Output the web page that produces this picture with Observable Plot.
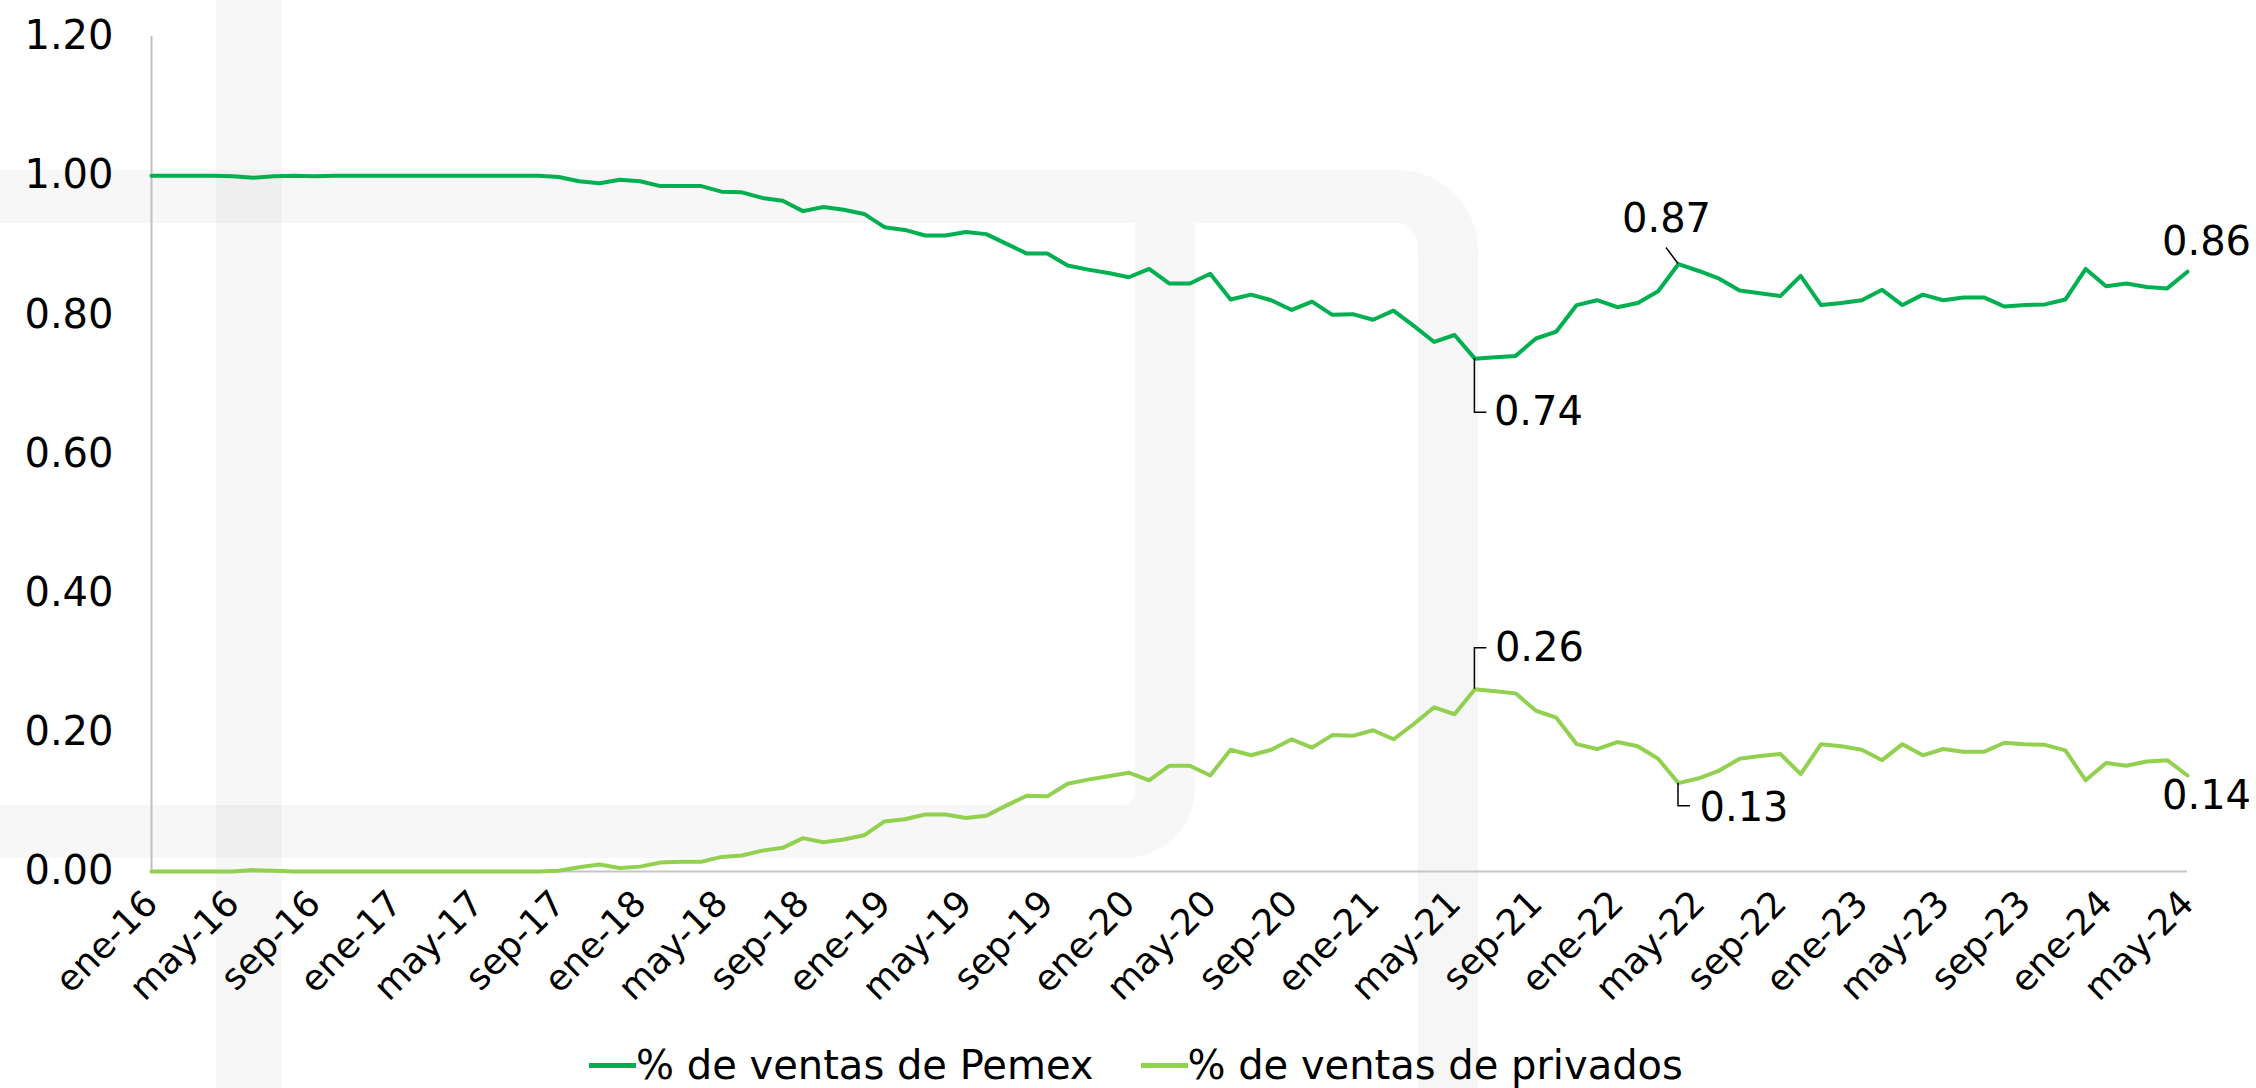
<!DOCTYPE html>
<html>
<head>
<meta charset="utf-8">
<script src="https://cdn.jsdelivr.net/npm/d3@7"></script>
<script src="https://cdn.jsdelivr.net/npm/@observablehq/plot@0.6"></script>
<style>
  html, body { margin: 0; padding: 0; background: #fff; }
  #wrap { position: relative; width: 2256px; height: 1088px; overflow: hidden; background: #fff; font-family: "DejaVu Sans", sans-serif; }
  .wm { position: absolute; box-sizing: border-box; border-color: rgba(0,0,0,0.031); border-style: solid; border-width: 0; }
  #chart { position: absolute; left: 0; top: 0; z-index: 1; }
  #legend { position: absolute; left: 0; top: 1030px; width: 2256px; height: 70px; display: flex; justify-content: center; align-items: center; font-size: 40px; color: #000; z-index: 1; padding-left: 16px; box-sizing: border-box; }
  .item { display: flex; align-items: center; margin-right: 47px; }
  .item:last-child { margin-right: 0; }
  .sw { display: inline-block; width: 47px; height: 5px; }
</style>
</head>
<body>
<div id="wrap">
  <div class="wm" style="left:216px;top:0;width:66px;height:1088px;background:rgba(0,0,0,0.031);"></div>
  <div class="wm" style="left:-100px;top:170px;width:1578px;height:1100px;border-top-width:53px;border-right-width:60px;border-top-right-radius:80px;"></div>
  <div class="wm" style="left:-100px;top:223px;width:1295px;height:635px;border-bottom-width:53px;border-right-width:60px;border-bottom-right-radius:70px;"></div>
  <div id="chart"></div>
  <div id="legend"></div>
</div>
<script>
// ---- data ----
const monthNames = ["ene","feb","mar","abr","may","jun","jul","ago","sep","oct","nov","dic"];
const years = ["16","17","18","19","20","21","22","23","24"];
const months = [];
for (const y of years) for (const m of monthNames) if (months.length < 101) months.push(m + "-" + y);

const seriesNames = ["% de ventas de Pemex", "% de ventas de privados"];
const seriesColors = ["#00b050", "#92d050"];

const pemex = [
  1.000, 1.000, 1.000, 1.000, 0.999, 0.997, 0.999, 1.000, 0.999, 1.000,
  1.000, 1.000, 1.000, 1.000, 1.000, 1.000, 1.000, 1.000, 1.000, 1.000,
  0.998, 0.992, 0.989, 0.994, 0.992, 0.985, 0.985, 0.985, 0.977, 0.976,
  0.968, 0.964, 0.949, 0.955, 0.951, 0.945, 0.926, 0.922, 0.914, 0.914,
  0.919, 0.916, 0.902, 0.888, 0.888, 0.871, 0.865, 0.860, 0.854, 0.866,
  0.845, 0.845, 0.859, 0.822, 0.829, 0.821, 0.807, 0.819, 0.800, 0.801,
  0.793, 0.806, 0.784, 0.761, 0.771, 0.737, 0.739, 0.741, 0.766, 0.776,
  0.814, 0.821, 0.811, 0.817, 0.834, 0.873, 0.863, 0.852, 0.835, 0.831,
  0.827, 0.856, 0.814, 0.817, 0.821, 0.836, 0.814, 0.829, 0.821, 0.825,
  0.825, 0.812, 0.814, 0.815, 0.822, 0.866, 0.841, 0.845, 0.840, 0.838,
  0.862
];
const privados = [
  0.000, 0.000, 0.000, 0.000, 0.000, 0.002, 0.001, 0.000, 0.000, 0.000,
  0.000, 0.000, 0.000, 0.000, 0.000, 0.000, 0.000, 0.000, 0.000, 0.000,
  0.001, 0.006, 0.010, 0.005, 0.007, 0.013, 0.014, 0.014, 0.021, 0.023,
  0.030, 0.034, 0.048, 0.042, 0.046, 0.052, 0.072, 0.075, 0.082, 0.082,
  0.077, 0.080, 0.095, 0.109, 0.108, 0.126, 0.132, 0.137, 0.142, 0.131,
  0.152, 0.152, 0.138, 0.175, 0.167, 0.175, 0.190, 0.178, 0.196, 0.195,
  0.203, 0.190, 0.212, 0.236, 0.226, 0.262, 0.259, 0.256, 0.231, 0.221,
  0.183, 0.176, 0.186, 0.180, 0.162, 0.127, 0.134, 0.145, 0.162, 0.166,
  0.169, 0.140, 0.183, 0.180, 0.175, 0.160, 0.183, 0.167, 0.176, 0.172,
  0.172, 0.185, 0.183, 0.182, 0.174, 0.131, 0.156, 0.152, 0.158, 0.160,
  0.138
];

const yTicks = [0, 0.2, 0.4, 0.6, 0.8, 1.0, 1.2];
const xTicks = months.filter((_, i) => i % 4 === 0);

// labelled points: [series values, month index, callout style]
const callouts = [
  {values: pemex, i: 65, kind: "downRight"},
  {values: pemex, i: 75, kind: "upLeft"},
  {values: pemex, i: 100, kind: "endAbove"},
  {values: privados, i: 65, kind: "upRight"},
  {values: privados, i: 75, kind: "downRightShort"},
  {values: privados, i: 100, kind: "endBelow"}
];

// ---- build ----
const data = [];
months.forEach((m, i) => {
  data.push({month: m, value: pemex[i], series: seriesNames[0]});
  data.push({month: m, value: privados[i], series: seriesNames[1]});
});
const ann = callouts.map(c => ({month: months[c.i], value: c.values[c.i], label: c.values[c.i].toFixed(2), kind: c.kind}));

const textStyle = {
  downRight: {dx: 19, dy: 54, textAnchor: "start"},
  upRight: {dx: 20, dy: -41, textAnchor: "start"},
  downRightShort: {dx: 21, dy: 25, textAnchor: "start"},
  upLeft: {dx: -12, dy: -45, textAnchor: "middle"},
  endAbove: {dx: 19, dy: -30, textAnchor: "middle"},
  endBelow: {dx: 19, dy: 21, textAnchor: "middle"}
};

function leaders(index, scales) {
  const g = d3.create("svg:g").attr("fill", "none").attr("stroke", "#000").attr("stroke-width", 1.5);
  for (const a of ann) {
    const x = scales.x(a.month), y = scales.y(a.value);
    let d = null;
    if (a.kind === "downRight") d = `M${x},${y}V${y + 54}H${x + 12}`;
    else if (a.kind === "upRight") d = `M${x},${y}V${y - 41}H${x + 12}`;
    else if (a.kind === "downRightShort") d = `M${x},${y}V${y + 23}H${x + 12}`;
    else if (a.kind === "upLeft") d = `M${x},${y}L${x - 12},${y - 16}`;
    if (d) g.append("path").attr("d", d);
  }
  return g.node();
}

const chart = Plot.plot({
  width: 2256,
  height: 1030,
  marginLeft: 151,
  marginRight: 69,
  marginTop: 36,
  marginBottom: 159,
  style: {fontFamily: "DejaVu Sans, sans-serif", fontSize: "40px", color: "#000", background: "transparent", overflow: "visible"},
  x: {type: "point", domain: months, padding: 0},
  y: {domain: [0, 1.2]},
  color: {domain: seriesNames, range: seriesColors},
  marks: [
    Plot.axisY(yTicks, {tickSize: 0, tickPadding: 38, tickFormat: d3.format(".2f"), label: null, fontSize: 40}),
    Plot.axisX(xTicks, {tickSize: 0, tickPadding: 26, tickRotate: -45, label: null, fontSize: 36}),
    Plot.ruleX([months[0]], {y1: 0, y2: 1.2, stroke: "#c0c0c0", strokeWidth: 2}),
    Plot.ruleY([0], {stroke: "#c6c6c6", strokeWidth: 2}),
    Plot.lineY(data, {x: "month", y: "value", z: "series", stroke: "series", strokeWidth: 4, strokeLinejoin: "round"}),
    leaders,
    ...Object.keys(textStyle).map(k => Plot.text(ann.filter(a => a.kind === k), {
      x: "month", y: "value", text: "label", fill: "#000", fontSize: 40, lineAnchor: "middle", ...textStyle[k]
    }))
  ]
});
document.getElementById("chart").appendChild(chart);

const legend = document.getElementById("legend");
seriesNames.forEach((name, k) => {
  const item = document.createElement("div");
  item.className = "item";
  const sw = document.createElement("span");
  sw.className = "sw";
  sw.style.background = seriesColors[k];
  const tx = document.createElement("span");
  tx.textContent = name;
  item.appendChild(sw);
  item.appendChild(tx);
  legend.appendChild(item);
});
</script>
</body>
</html>
